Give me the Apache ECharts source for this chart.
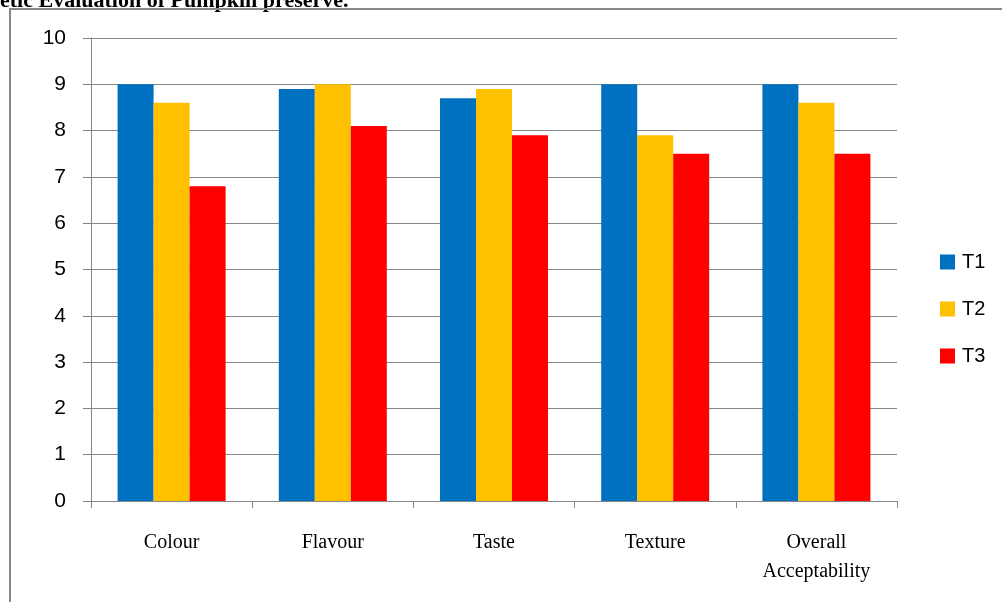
<!DOCTYPE html>
<html>
<head>
<meta charset="utf-8">
<script src="https://cdn.jsdelivr.net/npm/echarts@6/dist/echarts.min.js"></script>
<style>
  html, body { margin: 0; padding: 0; background: #fff; }
  #main { width: 1002px; height: 602px; }
</style>
</head>
<body>
<div id="main"></div>
<script>
var categories = ['Colour', 'Flavour', 'Taste', 'Texture', 'Overall\nAcceptability'];
var t1 = [9.0, 8.9, 8.7, 9.0, 9.0];
var t2 = [8.6, 9.0, 8.9, 7.9, 8.6];
var t3 = [6.8, 8.1, 7.9, 7.5, 7.5];
var seriesNames = ['T1', 'T2', 'T3'];
var colors = ['#0070c0', '#ffc000', '#ff0000'];

var chart = echarts.init(document.getElementById('main'));

var option = {
    animation: false,
    color: colors,
    graphic: [
        {
            type: 'text',
            left: 0,
            top: -10,
            style: {
                text: 'etic Evaluation of Pumpkin preserve.',
                font: 'bold 22px "Liberation Serif"',
                fill: '#000'
            }
        },
        {
            type: 'polyline',
            shape: { points: [[1002, 9], [10, 9], [10, 602]] },
            style: { stroke: '#888', lineWidth: 2, fill: null }
        }
    ],
    grid: {
        left: 91,
        right: 105,
        top: 38,
        bottom: 101
    },
    legend: {
        orient: 'vertical',
        left: 940,
        top: 252,
        padding: 0,
        itemWidth: 15,
        itemHeight: 15,
        itemGap: 27,
        icon: 'rect',
        textStyle: {
            fontFamily: 'Liberation Sans',
            fontSize: 20,
            color: '#000',
            padding: [0, 0, 0, 2]
        },
        data: seriesNames
    },
    xAxis: {
        type: 'category',
        data: categories,
        axisLine: { lineStyle: { color: '#868686', width: 1 } },
        axisTick: { show: true, length: 7, lineStyle: { color: '#868686' } },
        axisLabel: {
            fontFamily: 'Liberation Serif',
            fontSize: 20,
            color: '#000',
            margin: 27,
            lineHeight: 29
        }
    },
    yAxis: {
        type: 'value',
        min: 0,
        max: 10,
        interval: 1,
        axisLine: { show: true, lineStyle: { color: '#868686' } },
        axisTick: { show: true, length: 8, lineStyle: { color: '#868686' } },
        splitLine: { lineStyle: { color: '#868686', width: 1 } },
        axisLabel: {
            fontFamily: 'Liberation Sans',
            fontSize: 21,
            color: '#000',
            margin: 25
        }
    },
    series: [
        { name: seriesNames[0], type: 'bar', data: t1, barGap: '0%', barCategoryGap: '33%' },
        { name: seriesNames[1], type: 'bar', data: t2, barGap: '0%', barCategoryGap: '33%' },
        { name: seriesNames[2], type: 'bar', data: t3, barGap: '0%', barCategoryGap: '33%' }
    ]
};

chart.setOption(option);
</script>
</body>
</html>
